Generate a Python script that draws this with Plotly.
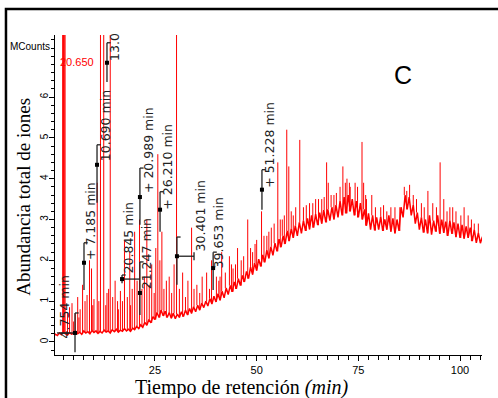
import plotly.graph_objects as go

# ---------------- data ----------------
step = 0.5  # minutes between baseline samples
baseline = [
    0.12, 0.19, 0.16, 0.22, 0.18, 0.24, 0.2, 0.17, 0.23, 0.19,
    0.21, 0.26, 0.2, 0.24, 0.19, 0.27, 0.22, 0.25, 0.2, 0.28,
    0.23, 0.27, 0.21, 0.26, 0.22, 0.29, 0.24, 0.27, 0.22, 0.3,
    0.25, 0.31, 0.24, 0.29, 0.26, 0.33, 0.27, 0.31, 0.26, 0.34,
    0.3, 0.38, 0.33, 0.42, 0.36, 0.48, 0.41, 0.55, 0.47, 0.62,
    0.55, 0.72, 0.6, 0.78, 0.64, 0.75, 0.6, 0.72, 0.58, 0.7,
    0.57, 0.68, 0.6, 0.74, 0.62, 0.78, 0.66, 0.82, 0.7, 0.86,
    0.74, 0.9, 0.78, 0.95, 0.84, 1.0, 0.88, 1.06, 0.93, 1.12,
    0.98, 1.18, 1.02, 1.24, 1.08, 1.32, 1.16, 1.38, 1.23, 1.47,
    1.3, 1.55, 1.38, 1.63, 1.47, 1.73, 1.55, 1.83, 1.65, 1.93,
    1.75, 2.03, 1.85, 2.13, 1.95, 2.25, 2.05, 2.33, 2.12, 2.42,
    2.22, 2.52, 2.32, 2.6, 2.4, 2.72, 2.47, 2.77, 2.55, 2.85,
    2.6, 2.93, 2.66, 2.97, 2.72, 3.03, 2.76, 3.1, 2.8, 3.13,
    2.86, 3.17, 2.9, 3.23, 2.93, 3.25, 2.97, 3.3, 3.0, 3.35,
    3.05, 3.45, 3.1, 3.55, 3.15, 3.6, 3.2, 3.5, 3.1, 3.45,
    3.05, 3.4, 3.0, 3.25, 2.85, 3.15, 2.75, 3.1, 2.73, 3.05,
    2.75, 3.07, 2.72, 3.0, 2.75, 3.1, 2.7, 3.03, 2.66, 3.0,
    2.72, 3.3, 3.05, 3.6, 3.25, 3.55, 3.1, 3.35, 2.9, 3.17,
    2.75, 3.05, 2.68, 3.0, 2.66, 3.1, 2.63, 2.97, 2.7, 3.1,
    2.65, 3.0, 2.67, 2.95, 2.6, 2.97, 2.65, 2.93, 2.57, 2.9,
    2.55, 2.87, 2.53, 2.83, 2.55, 2.8, 2.47, 2.75, 2.43, 2.67,
    2.42, 2.58,
]
baseline_t = [i * step for i in range(len(baseline))]

peak_t = [2.3, 2.5, 2.7, 2.9, 4.0, 4.6, 5.4, 6.0, 6.6, 7.2, 7.8, 8.3, 8.9, 9.4,
          10.0, 10.8, 11.6, 12.4, 13.2, 14.0, 14.6, 15.2, 15.8, 16.5, 17.5,
          18.2, 18.8, 19.4, 20.0, 20.6, 21.2, 21.8, 22.4, 23.0, 23.6, 24.2,
          24.8, 25.2, 25.7, 26.2, 26.7, 27.2, 27.8, 28.5, 29.1, 29.7, 30.3,
          31.0, 31.8, 32.5, 33.1, 34.0, 34.6, 35.3, 36.0, 36.6, 37.7, 38.4,
          38.9, 40.1, 40.7, 41.4, 42.3, 43.3, 44.2, 45.3, 46.2, 47.8, 49.0,
          50.0, 51.2, 52.5, 53.6, 55.2, 56.3, 57.4, 57.9, 59.0, 60.6, 61.5,
          63.0, 64.5, 66.0, 67.2, 67.6, 69.0, 70.5, 71.2, 71.8, 72.2, 73.0,
          74.2, 75.9, 76.3, 77.0, 78.3, 80.5, 82.0, 84.0, 86.3, 86.9, 87.6,
          88.5, 90.5, 92.1, 94.2, 95.1, 96.0, 97.5, 99.0, 101.0, 102.0, 103.5]
peak_h = [12, 12, 12, 12, 0.85, 0.95, 0.7, 1.1, 0.8, 1.4, 1.0, 1.15, 2.0, 1.8,
          1.05, 3.9, 12, 12, 1.2, 12, 1.1, 1.5, 1.0, 1.25, 2.5,
          1.1, 2.2, 1.3, 2.7, 1.5, 3.0, 1.3, 1.6, 3.0, 1.4, 1.9,
          1.2, 2.3, 4.6, 2.0, 2.7, 1.3, 1.5, 1.6, 1.2, 1.9, 12,
          1.3, 1.7, 1.1, 1.5, 2.8, 1.3, 1.4, 1.2, 1.6, 1.7, 1.3,
          2.0, 1.6, 1.5, 2.2, 1.7, 2.1, 1.8, 2.3, 2.0, 3.0, 2.2,
          2.5, 3.2, 2.6, 2.8, 4.4, 3.0, 5.2, 4.3, 3.1, 4.95, 3.3,
          3.4, 3.5, 3.5, 4.4, 3.9, 3.6, 3.8, 4.3, 3.9, 4.0, 3.8,
          3.9, 4.9, 3.9, 3.5, 3.6, 3.3, 3.2, 3.3, 3.8, 3.7, 3.85,
          3.6, 3.4, 3.7, 3.3, 4.4, 3.5, 3.3, 3.2, 3.3, 3.1, 2.9]

# small noise spikes riding on the baseline
minor_t = [3.5, 5.0, 6.3, 9.7, 11.2, 12.9, 13.6, 16.0, 17.0, 19.0,
           41.0, 43.8, 44.8, 46.8, 48.5, 49.6, 51.8, 53.0, 54.3, 55.8,
           56.8, 58.5, 59.6, 62.2, 63.8, 65.2, 66.6, 68.3, 69.6, 72.8,
           74.8, 76.8, 79.2, 81.2, 83.0, 85.2, 89.3, 91.2, 93.3, 96.8,
           98.2, 100.2, 102.8, 104.5]
minor_h = [0.7, 0.5, 0.6, 0.9, 1.0, 0.9, 1.3, 0.8, 1.0, 0.9,
           1.6, 1.9, 1.9, 2.1, 2.3, 2.4, 2.6, 2.7, 2.9, 3.0,
           3.1, 3.2, 3.3, 3.35, 3.4, 3.5, 3.55, 3.6, 3.65, 3.9,
           3.8, 3.6, 3.3, 3.35, 3.3, 3.3, 3.5, 3.3, 3.4, 3.2,
           3.3, 3.1, 3.0, 2.9]

# peak-label brackets: text, line time, line low, line high, marker level, text pos
ann_text = ["4.754 min", "+ 7.185 min", "10.690 min", "13.0", "20.845 min",
            "21.247 min", "+ 20.989 min", "+ 26.210 min", "30.401 min",
            "39.653 min", "+ 51.228 min"]
ann_line_t = [5.34, 7.55, 10.75, 13.2, 16.9, 21.3, 21.3, 26.25, 30.4, 39.3, 51.3]
ann_lo = [-0.25, 1.27, 3.41, 6.37, 1.44, 0.66, 2.87, 2.70, 1.40, 1.27, 3.24]
ann_hi = [0.71, 2.43, 4.83, 7.33, 1.64, 1.96, 4.26, 3.68, 2.57, 2.20, 4.22]
ann_mark = [0.22, 1.94, 4.34, 6.84, 1.54, 1.20, 3.55, 3.24, 2.10, 1.81, 3.73]
ann_text_t = [2.63, 9.3, 12.7, 15.2, 18.4, 22.8, 23.3, 28.2, 36.3, 40.7, 53.3]
ann_text_v = [0.05, 1.96, 4.39, 6.84, 1.62, 1.23, 3.60, 3.19, 2.18, 1.76, 3.73]
# horizontal bars (from line time to end time, at marker level)
hbar_from = [0.9, 16.9, 30.4]
hbar_to = [5.34, 21.3, 34.6]
hbar_v = [0.22, 1.54, 2.10]

x_tick_vals = [25, 50, 75, 100]
y_tick_vals = [0, 1, 2, 3, 4, 5, 6]

RED = "#ff0000"
INK = "#222222"

fig = go.Figure()

# noisy baseline
fig.add_trace(go.Scatter(x=baseline_t, y=baseline, mode="lines",
                         line=dict(color=RED, width=1.5), hoverinfo="skip",
                         showlegend=False))


def spikes(ts, hs):
    xs, ys = [], []
    for t, h in zip(ts, hs):
        i = min(len(baseline) - 1, int(round(t / step)))
        xs += [t, t, None]
        ys += [baseline[i], h, None]
    return xs, ys


px, py = spikes(peak_t + minor_t, peak_h + minor_h)
fig.add_trace(go.Scatter(x=px, y=py, mode="lines",
                         line=dict(color=RED, width=1), hoverinfo="skip",
                         showlegend=False))

# bracket lines
bx, by = [], []
for t, lo, hi in zip(ann_line_t, ann_lo, ann_hi):
    bx += [t, t, None, t, t + 0.9, None]
    by += [lo, hi, None, hi, hi, None]
for a, b, v in zip(hbar_from, hbar_to, hbar_v):
    bx += [a, b, None]
    by += [v, v, None]
bx += [hbar_to[2], hbar_to[2], None]
by += [hbar_v[2] - 0.1, hbar_v[2] + 0.1, None]
fig.add_trace(go.Scatter(x=bx, y=by, mode="lines",
                         line=dict(color=INK, width=1.3), hoverinfo="skip",
                         showlegend=False, cliponaxis=False))
fig.add_trace(go.Scatter(x=ann_line_t, y=ann_mark, mode="markers",
                         marker=dict(color="black", size=4, symbol="square"),
                         hoverinfo="skip", showlegend=False))

annotations = []
for txt, t, v in zip(ann_text, ann_text_t, ann_text_v):
    annotations.append(dict(x=t, y=v, xref="x", yref="y", text=txt,
                            textangle=-90, xanchor="center", yanchor="bottom",
                            showarrow=False,
                            font=dict(family="DejaVu Sans", size=12.5, color=INK)))

annotations += [
    dict(x=1.1, y=6.86, xref="x", yref="y", text="20.650", showarrow=False,
         xanchor="left", yanchor="middle",
         font=dict(family="Arial", size=11, color=RED)),
    dict(x=-0.007, y=7.23, xref="paper", yref="y", text="MCounts",
         showarrow=False, xanchor="right", yanchor="middle",
         font=dict(family="Arial", size=10, color="black")),
    dict(x=0.815, y=0.874, xref="paper", yref="paper", text="C",
         showarrow=False, xanchor="center", yanchor="middle",
         font=dict(family="Arial", size=25, color="black")),
    dict(x=0.436, y=-0.1, xref="paper", yref="paper",
         text="Tiempo de retención <i>(min)</i>", showarrow=False,
         xanchor="center", yanchor="middle",
         font=dict(family="Liberation Serif", size=20, color="black")),
    dict(x=-0.073, y=0.494, xref="paper", yref="paper",
         text="Abundancia total de iones", textangle=-90, showarrow=False,
         xanchor="center", yanchor="middle",
         font=dict(family="Liberation Serif", size=19, color="black")),
]

fig.update_layout(
    width=498, height=398,
    margin=dict(l=55, r=16, t=35, b=43),
    paper_bgcolor="white", plot_bgcolor="white",
    annotations=annotations,
    shapes=[dict(type="rect", xref="paper", yref="paper",
                 x0=-0.1148, x1=1.3, y0=-0.4, y1=1.081,
                 line=dict(color="black", width=2.5), layer="above")],
    xaxis=dict(range=[0.42, 105.4], showgrid=False, zeroline=False,
               showline=True, linecolor="black", linewidth=1,
               ticks="outside", ticklen=5, tickcolor="black",
               tickmode="array", tickvals=x_tick_vals,
               ticktext=[str(v) for v in x_tick_vals],
               tickfont=dict(family="Arial", size=11, color="black"),
               minor=dict(tickmode="linear", tick0=0, dtick=2.5,
                          ticks="outside", ticklen=4, tickcolor="black",
                          showgrid=False)),
    yaxis=dict(range=[-0.32, 7.52], showgrid=False, zeroline=False,
               showline=True, linecolor="black", linewidth=1,
               ticks="outside", ticklen=5, tickcolor="black",
               tickmode="array", tickvals=y_tick_vals,
               ticktext=[str(v) for v in y_tick_vals], tickangle=-90,
               ticklabelstandoff=-3,
               tickfont=dict(family="Arial", size=10, color="black"),
               minor=dict(tickmode="linear", tick0=0, dtick=0.2,
                          ticks="outside", ticklen=3, tickcolor="black",
                          showgrid=False)),
)

fig.write_html("out.html")
